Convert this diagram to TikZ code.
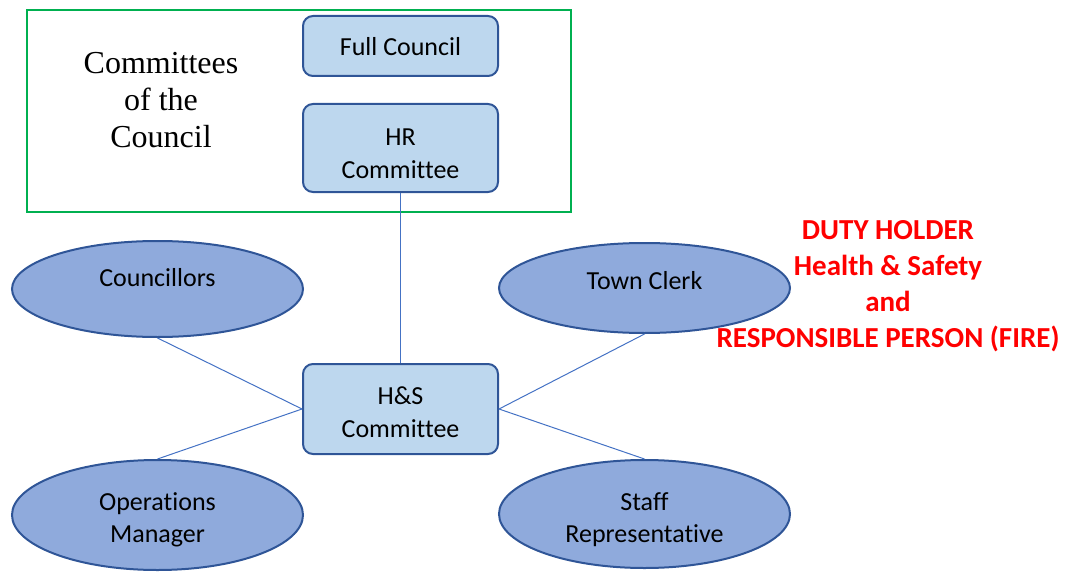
\documentclass[tikz,border=0pt]{standalone}
\usepackage{fontspec}
\setmainfont[Ligatures=NoCommon]{Carlito}
\newfontfamily\serifface{Liberation Serif}
\usetikzlibrary{shapes.geometric}
\definecolor{boxfill}{HTML}{BDD7EE}
\definecolor{boxline}{HTML}{2F5597}
\definecolor{ellfill}{HTML}{8FAADC}
\definecolor{conn}{HTML}{4472C4}
\definecolor{grn}{HTML}{00B050}
\definecolor{redtxt}{HTML}{FF0000}
\begin{document}
\begin{tikzpicture}[x=1pt,y=-1pt,
  rbox/.style={draw=boxline,fill=boxfill,line width=2pt,rounded corners=10pt,minimum width=195pt,inner sep=0pt},
  oval/.style={draw=boxline,fill=ellfill,line width=2pt,ellipse,minimum width=291pt,minimum height=96pt,inner sep=0pt},
  otext/.style={align=center,font=\fontsize{26}{32.5}\selectfont,inner sep=0pt},
  link/.style={draw=conn,line width=1pt},
  redlab/.style={text=redtxt,align=center,font=\bfseries\fontsize{29}{36}\selectfont,inner sep=0pt}
]
\useasboundingbox (0,0) rectangle (1075,572);
\draw[grn,line width=1.5pt] (27,10) rectangle (571,212);
\node[font=\serifface\fontsize{32}{37}\selectfont,align=center,inner sep=0pt] (cotc) at (161,100.5) {Committees\\of the\\Council};
\node[rbox,minimum height=60pt] (full) at (400.5,46) {};
\node[otext] (fullT) at (400.5,47) {Full Council};
\node[rbox,minimum height=88pt] (hr) at (400.5,148) {};
\node[otext] (hrT) at (400.5,154) {HR\\Committee};
\node[rbox,minimum height=90pt] (hs) at (400.5,409) {};
\node[otext] (hsT) at (400.5,412) {H\&S\\Committee};
\node[oval] (coun) at (157.5,289) {};
\node[otext] (counT) at (157.5,278) {Councillors};
\node[oval,minimum height=110pt] (ops) at (157.5,515) {};
\node[otext] (opsT) at (157.5,520) {Operations\\Manager};
\node[oval,minimum height=90pt] (tc) at (644.5,288) {};
\node[otext] (tcT) at (644.5,281) {Town Clerk};
\node[oval,minimum height=108pt] (staff) at (644.5,514) {};
\node[otext] (staffT) at (644.5,519.5) {Staff\\Representative};
\node[redlab] (duty) at (888,286) {DUTY HOLDER\\Health \& Safety\\and\\RESPONSIBLE PERSON (FIRE)};
\draw[link] (hr.south) -- (hs.north);
\draw[link] (coun.south) -- (hs.west);
\draw[link] (ops.north) -- (hs.west);
\draw[link] (tc.south) -- (hs.east);
\draw[link] (staff.north) -- (hs.east);
\end{tikzpicture}
\end{document}
